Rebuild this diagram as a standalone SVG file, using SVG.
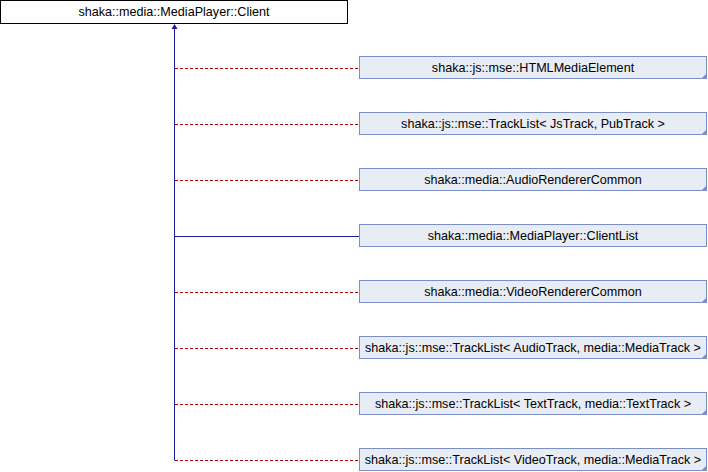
<svg xmlns="http://www.w3.org/2000/svg" width="708" height="472" viewBox="0 0 708 472">
<defs>
<style>
.t{font-family:"Liberation Sans",Arial,sans-serif;font-size:12.6px;fill:#000;text-anchor:middle}
.b{fill:#E8ECF5;stroke:#7A8FC8;stroke-width:1}
.d{stroke:#A00000;stroke-width:1;stroke-dasharray:3,2;fill:none}
.s{stroke:#1A1A9A;stroke-width:1;fill:none}
.c{fill:#7A8FC8}
</style>
</defs>
<rect width="708" height="472" fill="#fff"/>
<g id="connectors">
<line class="s" x1="174.5" y1="28" x2="174.5" y2="460.5"/>
<polygon points="174.5,24 171.5,29 177.5,29" fill="#1A1A9A"/>
<line class="d" x1="175" y1="68.5" x2="358" y2="68.5"/>
<line class="d" x1="175" y1="124.5" x2="358" y2="124.5"/>
<line class="d" x1="175" y1="180.5" x2="358" y2="180.5"/>
<line class="s" x1="175" y1="236.5" x2="359" y2="236.5"/>
<line class="d" x1="175" y1="292.5" x2="358" y2="292.5"/>
<line class="d" x1="175" y1="348.5" x2="358" y2="348.5"/>
<line class="d" x1="175" y1="404.5" x2="358" y2="404.5"/>
<line class="d" x1="175" y1="460.5" x2="358" y2="460.5"/>
</g>
<g id="client">
<rect x="0.5" y="0.5" width="347" height="23" fill="#fff" stroke="#000"/>
<text class="t" x="174" y="16">shaka::media::MediaPlayer::Client</text>
</g>
<g id="n1"><rect class="b" x="359.5" y="56.5" width="347" height="22"/><polygon class="c" points="707,73 707,79 701,79"/><text class="t" x="533" y="72">shaka::js::mse::HTMLMediaElement</text></g>
<g id="n2"><rect class="b" x="359.5" y="112.5" width="347" height="22"/><polygon class="c" points="707,129 707,135 701,135"/><text class="t" x="533" y="128">shaka::js::mse::TrackList&lt; JsTrack, PubTrack &gt;</text></g>
<g id="n3"><rect class="b" x="359.5" y="168.5" width="347" height="22"/><polygon class="c" points="707,185 707,191 701,191"/><text class="t" x="533" y="184">shaka::media::AudioRendererCommon</text></g>
<g id="n4"><rect class="b" x="359.5" y="224.5" width="347" height="22"/><text class="t" x="533" y="240">shaka::media::MediaPlayer::ClientList</text></g>
<g id="n5"><rect class="b" x="359.5" y="280.5" width="347" height="22"/><polygon class="c" points="707,297 707,303 701,303"/><text class="t" x="533" y="296">shaka::media::VideoRendererCommon</text></g>
<g id="n6"><rect class="b" x="359.5" y="336.5" width="347" height="22"/><polygon class="c" points="707,353 707,359 701,359"/><text class="t" x="533" y="352">shaka::js::mse::TrackList&lt; AudioTrack, media::MediaTrack &gt;</text></g>
<g id="n7"><rect class="b" x="359.5" y="392.5" width="347" height="22"/><polygon class="c" points="707,409 707,415 701,415"/><text class="t" x="533" y="408">shaka::js::mse::TrackList&lt; TextTrack, media::TextTrack &gt;</text></g>
<g id="n8"><rect class="b" x="359.5" y="448.5" width="347" height="22"/><polygon class="c" points="707,465 707,471 701,471"/><text class="t" x="533" y="464">shaka::js::mse::TrackList&lt; VideoTrack, media::MediaTrack &gt;</text></g>
</svg>
